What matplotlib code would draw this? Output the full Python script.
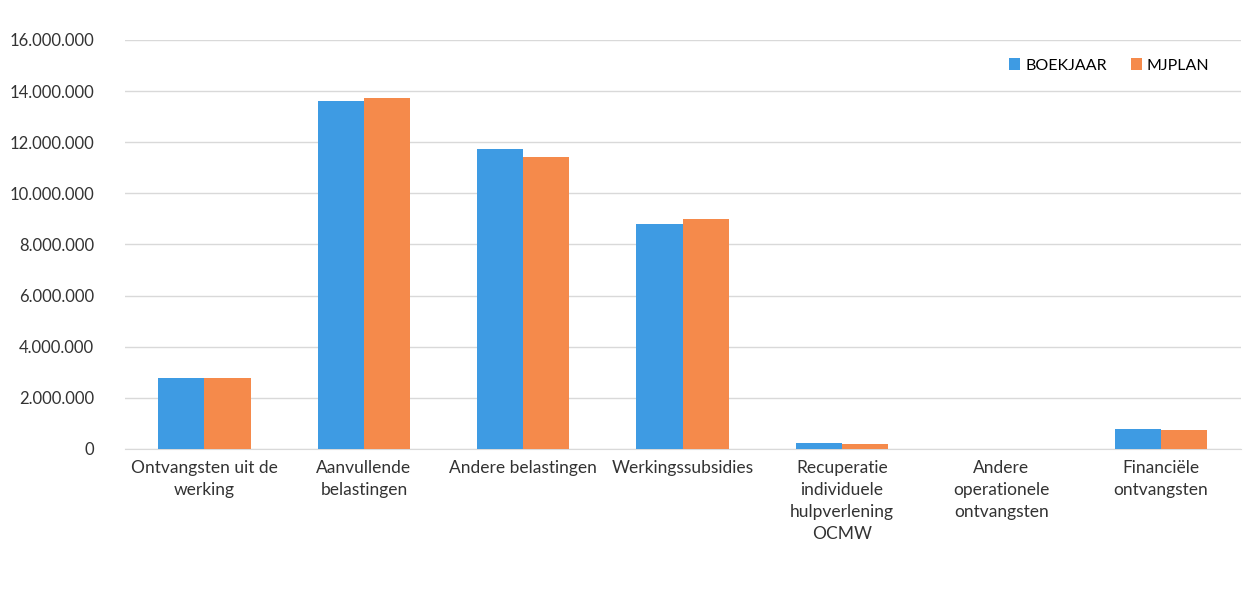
import matplotlib; matplotlib.use('agg')
import matplotlib.pyplot as plt
import numpy as np
from matplotlib.ticker import FuncFormatter

plt.rcParams['font.family'] = ['Lato', 'DejaVu Sans']

categories = ['Ontvangsten uit de\nwerking', 'Aanvullende\nbelastingen', 'Andere belastingen',
              'Werkingssubsidies', 'Recuperatie\nindividuele\nhulpverlening\nOCMW',
              'Andere\noperationele\nontvangsten', 'Financiële\nontvangsten']
boekjaar = [2780000, 13610000, 11720000, 8820000, 230000, 0, 780000]
mjplan = [2760000, 13720000, 11410000, 8980000, 190000, 0, 730000]

fig = plt.figure(figsize=(12.48, 6.15), dpi=100)
ax = fig.add_axes([0.1, 0.27, 0.894, 0.665])

x = np.arange(len(categories))
w = 0.29
ax.bar(x - w/2, boekjaar, w, color='#3E9BE3', label='BOEKJAAR', zorder=3)
ax.bar(x + w/2, mjplan, w, color='#F58A4B', label='MJPLAN', zorder=3)

ax.set_xlim(-0.5, len(categories) - 0.5)
ax.set_ylim(0, 16000000)
ax.set_yticks(np.arange(0, 16000001, 2000000))
ax.yaxis.set_major_formatter(FuncFormatter(lambda v, p: f'{int(v):,}'.replace(',', '.')))
ax.set_xticks(x)
ax.set_xticklabels(categories, fontsize=12.5, color='#333333', linespacing=1.45)
ax.tick_params(axis='y', length=0, labelsize=12, labelcolor='#333333', pad=22)
ax.tick_params(axis='x', length=0, pad=8)

ax.grid(axis='y', color='#D9D9D9', linewidth=1, zorder=0)
for s in ['top', 'right', 'left']:
    ax.spines[s].set_visible(False)
ax.spines['bottom'].set_color('#D9D9D9')

ax.legend(loc='upper right', bbox_to_anchor=(0.985, 0.99), frameon=False, fontsize=11.5,
          handlelength=0.7, handleheight=0.7, handletextpad=0.3, ncol=2, columnspacing=1.5)

plt.savefig('out.png', dpi=100)
